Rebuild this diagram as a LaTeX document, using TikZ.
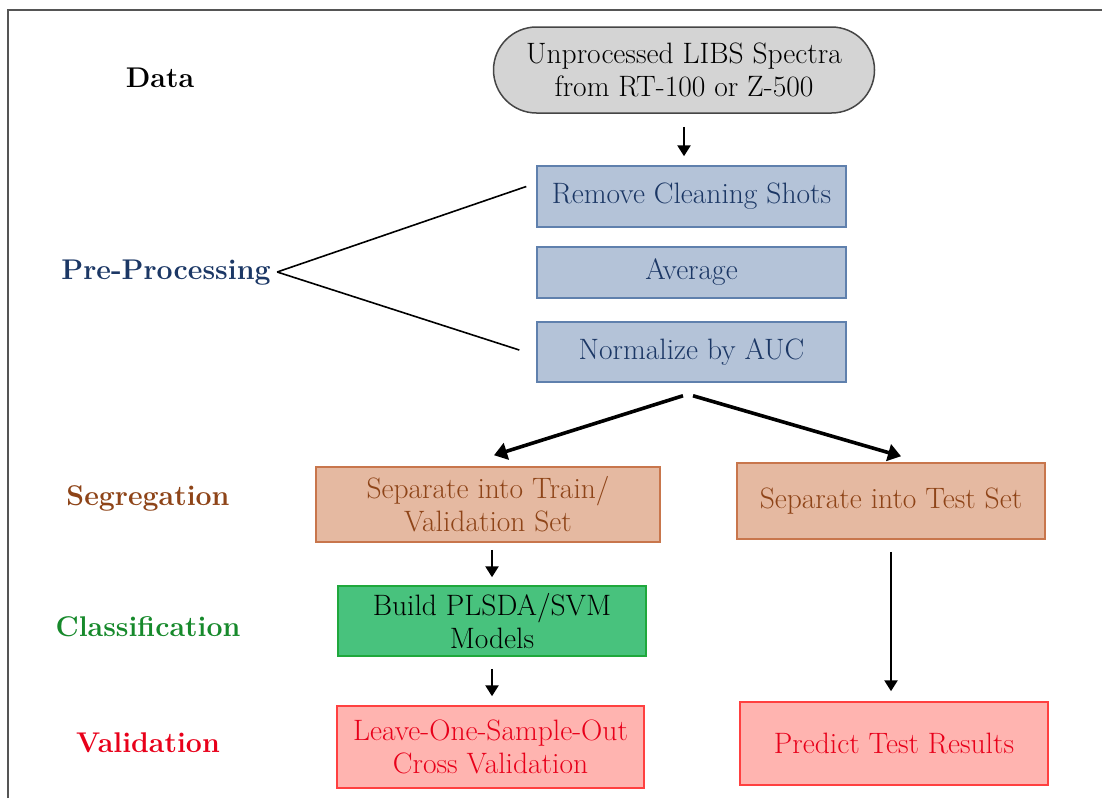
\documentclass[tikz,border=0pt]{standalone}
\usepackage{fontspec}
\usepackage{tikz}
\usetikzlibrary{calc,arrows.meta}
\definecolor{rawfill}{HTML}{D4D4D4}
\definecolor{rawline}{HTML}{454545}
\definecolor{prefill}{HTML}{B4C3D8}
\definecolor{preline}{HTML}{5F80AD}
\definecolor{pretext}{HTML}{1B3765}
\definecolor{segfill}{HTML}{E5B9A1}
\definecolor{segline}{HTML}{C8764C}
\definecolor{segtext}{HTML}{8E4418}
\definecolor{clsfill}{HTML}{48C27D}
\definecolor{clsline}{HTML}{1FA83C}
\definecolor{clstext}{HTML}{16892B}
\definecolor{valfill}{HTML}{FFB4B0}
\definecolor{valline}{HTML}{FF4040}
\definecolor{valtext}{HTML}{E8001A}
\definecolor{frameC}{HTML}{555555}
\tikzset{
  boxS/.style   ={draw, line width=1.5pt, inner sep=0pt, align=center,
                  font=\fontsize{29.5}{33}\selectfont},
  rawS/.style   ={boxS, fill=rawfill, draw=rawline, rounded corners=43pt},
  preS/.style   ={boxS, fill=prefill, draw=preline, text=pretext,
                  minimum width=309pt},
  segS/.style   ={boxS, fill=segfill, draw=segline, text=segtext},
  clsS/.style   ={boxS, fill=clsfill, draw=clsline, text=black},
  valS/.style   ={boxS, fill=valfill, draw=valline, text=valtext},
  tag/.style    ={font=\fontsize{28.5}{32}\selectfont\bfseries, text=#1},
  flow/.style   ={-{Triangle[width=13pt,length=11pt]}, line width=2.6pt},
  bigflow/.style={-{Triangle[width=17pt,length=13pt]}, line width=3.6pt},
  fork/.style   ={line width=1.6pt},
}

\begin{document}
\begin{tikzpicture}[x=1pt, y=-1pt]
  \useasboundingbox (0,0) rectangle (1102,798);
  \draw[frameC, line width=2.5pt] (8,798) -- (8,10) -- (1102,10);

  % stage labels
  \node[tag=black]    (dataT) at (160,78)  {Data};
  \node[tag=pretext]  (preT)  at (166,273) {Pre-Processing};
  \node[tag=segtext]  (segT)  at (148,498) {Segregation};
  \node[tag=clstext]  (clsT)  at (148,627) {Classification};
  \node[tag=valtext]  (valT)  at (148,743) {Validation};

  % boxes
  \node[rawS, minimum width=381pt, minimum height=86pt] (raw) at (684,70)
    {Unprocessed LIBS Spectra\\from RT-100 or Z-500};
  \node[preS, minimum height=61pt] (clean) at (691.5,196.5) {Remove Cleaning Shots};
  \node[preS, minimum height=51pt] (avg)   at (691.5,272.5) {Average};
  \node[preS, minimum height=60pt] (norm)  at (691.5,352)   {Normalize by AUC};
  \node[segS, minimum width=344pt, minimum height=75pt] (train) at (488,504.5)
    {Separate into Train/\\Validation Set};
  \node[segS, minimum width=308pt, minimum height=76pt] (test) at (891,501)
    {Separate into Test Set};
  \node[clsS, minimum width=308pt, minimum height=70pt] (build) at (492,621)
    {Build PLSDA/SVM\\Models};
  \node[valS, minimum width=307pt, minimum height=82pt] (loso) at (490.5,747)
    {Leave-One-Sample-Out\\Cross Validation};
  \node[valS, minimum width=308pt, minimum height=83pt] (pred) at (894,743.5)
    {Predict Test Results};

  % connectors
  \draw[flow] ($(raw.south)+(0,13)$) -- ($(raw.south |- clean.north)+(0,-9)$);
  \draw[fork] ($(preT.east)+(3,-1)$) -- ($(clean.west)+(-10,-10)$);
  \draw[fork] ($(preT.east)+(3,-1)$) -- ($(norm.west)+(-17,-2)$);
  \draw[bigflow] ($(norm.south)+(-8.5,13)$) -- ($(train.north)+(6,-11)$);
  \draw[bigflow] ($(norm.south)+(1.5,13)$) -- ($(test.north)+(10,-6)$);
  \draw[flow] ($(train.south)+(4,7)$) -- ($(build.north)+(0,-8)$);
  \draw[flow] ($(build.south)+(0,12)$) -- ($(loso.north)+(1.5,-9)$);
  \draw[flow] ($(test.south)+(0,12)$) -- ($(pred.north)+(-3,-10)$);
\end{tikzpicture}
\end{document}
